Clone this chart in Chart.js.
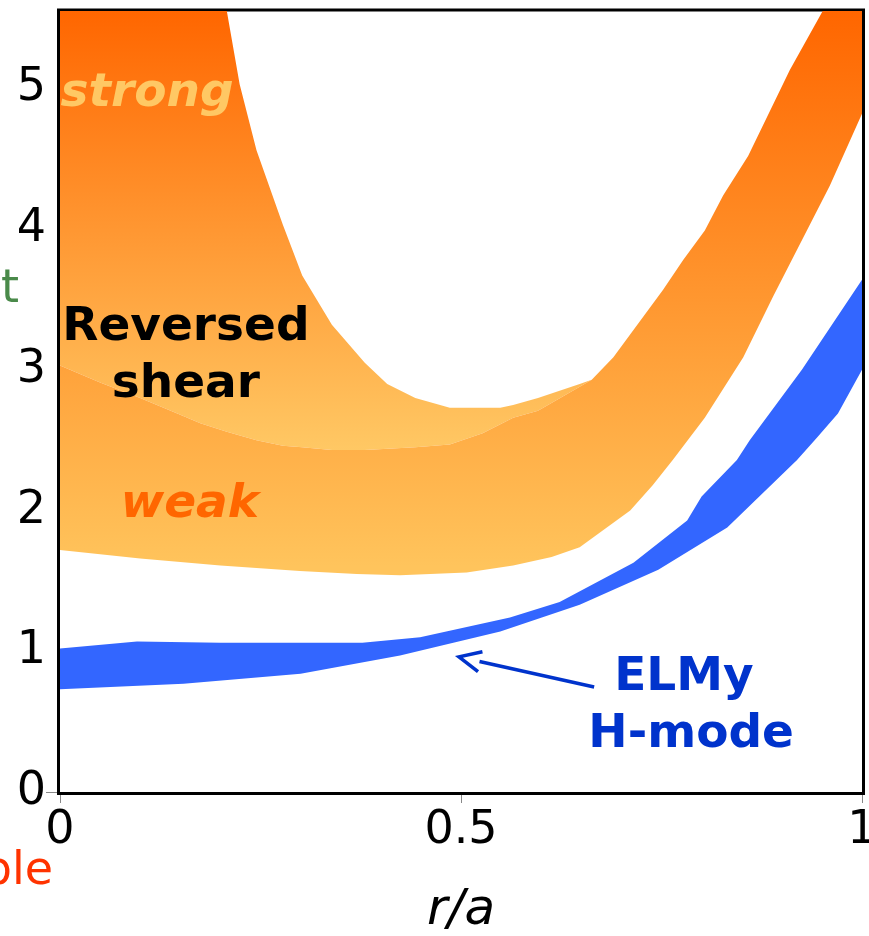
<!DOCTYPE html>
<html>
<head>
<meta charset="utf-8">
<title>q profiles</title>
<script src="https://cdn.jsdelivr.net/npm/chart.js@4/dist/chart.umd.min.js"></script>
<style>
  html, body { margin: 0; padding: 0; background: #fff; }
  #wrap { width: 869px; height: 936px; position: relative; }
</style>
</head>
<body>
<div id="wrap"><canvas id="qChart"></canvas></div>
<script>
// r/a positions and q values along the edges of each band
const weakUpperX = [0, 0.05, 0.1, 0.15, 0.175, 0.208, 0.245, 0.278, 0.302, 0.339, 0.38, 0.443, 0.486, 0.527, 0.565, 0.596, 0.648, 0.663, 0.69, 0.752, 0.777, 0.804, 0.827, 0.858, 0.91, 0.951, 1.0];
const weakUpperQ = [3.03, 2.91, 2.80, 2.68, 2.62, 2.56, 2.50, 2.46, 2.45, 2.43, 2.43, 2.45, 2.47, 2.55, 2.66, 2.71, 2.88, 2.93, 3.09, 3.57, 3.78, 3.99, 4.24, 4.52, 5.13, 5.55, 5.55];
const weakLowerX = [0, 0.1, 0.2, 0.299, 0.37, 0.424, 0.507, 0.565, 0.613, 0.648, 0.711, 0.739, 0.764, 0.804, 0.852, 0.889, 0.96, 1.0];
const weakLowerQ = [1.72, 1.66, 1.61, 1.57, 1.55, 1.54, 1.56, 1.61, 1.67, 1.74, 2.0, 2.18, 2.36, 2.66, 3.09, 3.52, 4.31, 4.82];

const strongUpperX = [0, 0.1, 0.208, 0.224, 0.245, 0.278, 0.302, 0.339, 0.38, 0.408, 0.443, 0.486, 0.527, 0.549, 0.565, 0.596, 0.648, 0.663];
const strongUpperQ = [5.55, 5.55, 5.55, 5.03, 4.56, 4.03, 3.67, 3.32, 3.05, 2.90, 2.80, 2.73, 2.73, 2.73, 2.75, 2.80, 2.90, 2.93];

const elmyUpperX = [0, 0.096, 0.2, 0.3, 0.377, 0.449, 0.561, 0.623, 0.715, 0.782, 0.80, 0.844, 0.86, 0.925, 1.0];
const elmyUpperQ = [1.02, 1.07, 1.06, 1.06, 1.06, 1.10, 1.24, 1.35, 1.63, 1.93, 2.10, 2.36, 2.50, 3.00, 3.64];
const elmyLowerX = [0, 0.154, 0.3, 0.424, 0.549, 0.648, 0.746, 0.832, 0.919, 0.944, 0.97, 1.0];
const elmyLowerQ = [0.73, 0.77, 0.84, 0.97, 1.14, 1.33, 1.58, 1.88, 2.36, 2.52, 2.69, 3.00];

const xTicks = [0, 0.5, 1];
const yTicks = [0, 1, 2, 3, 4, 5];
const yMax = 5.55;

const FONT = '"DejaVu Sans", sans-serif';

function toPoints(xs, ys) {
  return xs.map((x, i) => ({ x: x, y: ys[i] }));
}

// vertical orange gradient between two q levels
function orangeFill(qTop, qBottom, light) {
  return function (context) {
    const chart = context.chart;
    if (!chart.chartArea) return '#ffa040';
    const y = chart.scales.y;
    const g = chart.ctx.createLinearGradient(0, y.getPixelForValue(qTop), 0, y.getPixelForValue(qBottom));
    g.addColorStop(0, '#ff6600');
    g.addColorStop(1, light);
    return g;
  };
}

function bandLine(label, xs, ys, extra) {
  return Object.assign({
    label: label,
    data: toPoints(xs, ys),
    borderWidth: 0,
    borderColor: 'rgba(0,0,0,0)',
    pointRadius: 0,
    tension: 0,
    fill: false
  }, extra || {});
}

// frame around the plot area
const framePlugin = {
  id: 'frame',
  beforeDatasetsDraw(chart) {
    const { ctx, chartArea: a } = chart;
    ctx.save();
    ctx.strokeStyle = '#000';
    ctx.lineWidth = 3;
    ctx.strokeRect(a.left - 1.5, a.top - 1, a.right - a.left + 3, a.bottom - a.top + 2.5);
    ctx.restore();
  }
};

// band names and the arrow pointing at the ELMy band
const labelsPlugin = {
  id: 'bandLabels',
  afterDatasetsDraw(chart) {
    const { ctx } = chart;
    const sx = chart.scales.x, sy = chart.scales.y;
    const px = v => sx.getPixelForValue(v);
    const py = v => sy.getPixelForValue(v);

    function text(str, x, y, font, color) {
      ctx.font = font;
      ctx.fillStyle = color;
      ctx.textAlign = 'center';
      ctx.textBaseline = 'alphabetic';
      ctx.fillText(str, px(x), py(y));
    }

    ctx.save();
    text('strong', 0.1085, 4.876, 'italic bold 47px ' + FONT, '#ffc864');
    text('Reversed', 0.157, 3.21, 'bold 47px ' + FONT, '#000');
    text('shear', 0.157, 2.807, 'bold 47px ' + FONT, '#000');
    text('weak', 0.162, 1.955, 'italic bold 47px ' + FONT, '#ff6600');
    text('ELMy', 0.778, 0.725, 'bold 47px ' + FONT, '#0033cc');
    text('H-mode', 0.787, 0.32, 'bold 47px ' + FONT, '#0033cc');

    // arrow
    const tipX = px(0.4975), tipY = py(0.96);
    const tailX = px(0.666), tailY = py(0.746);
    const ang = Math.atan2(tailY - tipY, tailX - tipX);
    const head = 24, spread = 25 * Math.PI / 180;
    ctx.strokeStyle = '#0033cc';
    ctx.lineWidth = 3.5;
    ctx.beginPath();
    ctx.moveTo(tailX, tailY);
    ctx.lineTo(tipX + Math.cos(ang) * 21, tipY + Math.sin(ang) * 21);
    ctx.stroke();
    ctx.beginPath();
    ctx.moveTo(tipX + Math.cos(ang - spread) * head, tipY + Math.sin(ang - spread) * head);
    ctx.lineTo(tipX, tipY);
    ctx.lineTo(tipX + Math.cos(ang + spread) * head, tipY + Math.sin(ang + spread) * head);
    ctx.stroke();

    // cut-off side labels at the canvas edge
    ctx.font = '46px ' + FONT;
    ctx.textAlign = 'left';
    ctx.fillStyle = '#4a8a4a';
    ctx.fillText('t', 1, 302);
    ctx.fillStyle = '#ff3300';
    ctx.textAlign = 'right';
    ctx.fillText('ble', 53, 884);
    ctx.restore();
  }
};

function drawChart() {
  const ctx = document.getElementById('qChart').getContext('2d');

  new Chart(ctx, {
    type: 'line',
    data: {
      datasets: [
        bandLine('weak lower', weakLowerX, weakLowerQ),
        bandLine('weak', weakUpperX, weakUpperQ, {
          fill: { target: 0 },
          backgroundColor: orangeFill(5.55, 1.6, '#ffc45c')
        }),
        bandLine('strong', strongUpperX, strongUpperQ, {
          fill: { target: 1 },
          backgroundColor: orangeFill(5.55, 2.43, '#ffc864')
        }),
        bandLine('ELMy lower', elmyLowerX, elmyLowerQ),
        bandLine('ELMy H-mode', elmyUpperX, elmyUpperQ, {
          fill: { target: 3 },
          backgroundColor: '#3366ff'
        })
      ]
    },
    options: {
      responsive: true,
      maintainAspectRatio: false,
      animation: false,
      layout: { padding: { top: 11, right: 7, left: 0, bottom: 0 } },
      plugins: {
        legend: { display: false },
        tooltip: { enabled: false },
        filler: { propagate: false }
      },
      scales: {
        x: {
          type: 'linear',
          min: 0,
          max: 1,
          afterBuildTicks: s => { s.ticks = xTicks.map(v => ({ value: v })); },
          afterFit: s => { s.height = 144; s.paddingLeft = 0; s.paddingRight = 0; },
          border: { display: false },
          grid: {
            drawOnChartArea: false,
            tickLength: 11,
            color: '#888',
            lineWidth: 1
          },
          ticks: {
            color: '#000',
            font: { family: FONT, size: 46 },
            padding: 0,
            maxRotation: 0,
            autoSkip: false,
            callback: v => String(v)
          },
          title: {
            display: true,
            text: 'r/a',
            color: '#000',
            font: { family: FONT, size: 50, style: 'italic', lineHeight: 1.0 },
            padding: { top: 0, bottom: 0 }
          }
        },
        y: {
          type: 'linear',
          min: 0,
          max: yMax,
          afterBuildTicks: s => { s.ticks = yTicks.map(v => ({ value: v })); },
          afterFit: s => { s.width = 60; s.paddingTop = 0; s.paddingBottom = 0; },
          border: { display: false },
          grid: {
            drawOnChartArea: false,
            tickLength: 14,
            color: c => (c.tick && c.tick.value === 0 ? '#888' : 'rgba(0,0,0,0)'),
            lineWidth: 1
          },
          ticks: {
            color: '#000',
            font: { family: FONT, size: 46 },
            padding: 0,
            callback: v => String(v)
          }
        }
      }
    },
    plugins: [framePlugin, labelsPlugin]
  });
}

document.addEventListener('DOMContentLoaded', drawChart);
</script>
</body>
</html>
